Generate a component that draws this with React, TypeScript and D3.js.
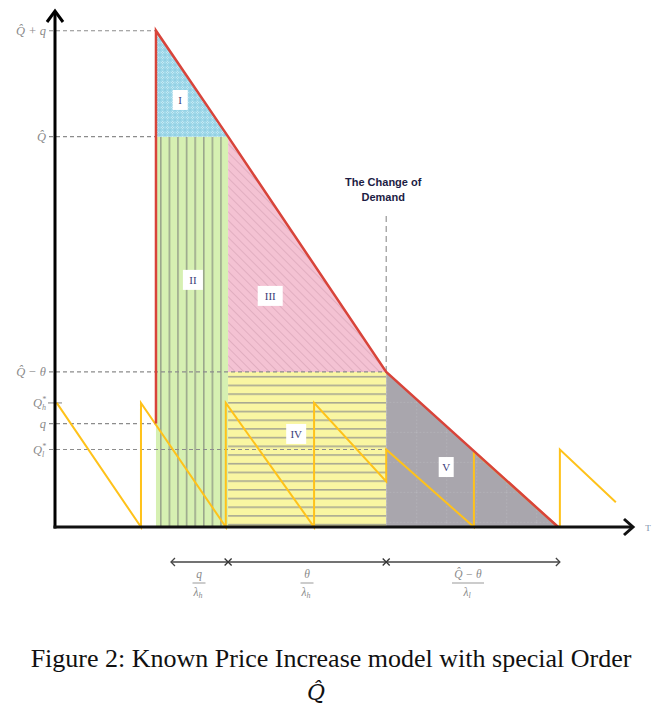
import React from "react";
import * as d3 from "d3";

// ---- data ----
// time axis (arbitrary units 0..100), inventory axis (arbitrary units 0..100)
const levelNames = ["Q̂ + q", "Q̂", "Q̂ − θ", "Qh*", "q", "Ql*"];
const levelValues = [96, 75.5, 30, 24, 20, 15];

const keyTimes = { special: 17.5, t1: 30, change: 57.4, end: 87.2 };

// inventory with special order (red line)
const redT = [17.5, 17.5, 30, 57.4, 87.2];
const redI = [20, 96, 75.5, 30, 0];

// regular EOQ sawtooth (yellow line)
const sawT = [0.3, 14.9, 14.9, 29.6, 29.6, 44.9, 44.9, 57.4, 57.4, 72.6, 72.6, 87.2, 87.5, 87.5, 97.2];
const sawI = [24, 0, 24, 0, 24, 0, 24, 8.8, 15, 0, 14.6, 0, 0, 15, 4.8];

const regionNames = ["I", "II", "III", "IV", "V"];
const regionLabelT = [21.7, 23.9, 37.3, 41.8, 67.8];
const regionLabelI = [82.6, 47.8, 44.7, 18, 11.6];

const bracketT = [20.1, 30, 57.4, 87.5];

const W = 664;
const H = 706;

export default function App() {
  const x = d3.scaleLinear().domain([0, 100]).range([55, 632]);
  const y = d3.scaleLinear().domain([0, 100]).range([527, 10]);

  const Qq = levelValues[0];
  const Qh = levelValues[1];
  const Qt = levelValues[2];

  const line = d3
    .line<[number, number]>()
    .x((d) => x(d[0]))
    .y((d) => y(d[1]));

  const redPts: [number, number][] = redT.map((t, i) => [t, redI[i]]);
  const sawPts: [number, number][] = sawT.map((t, i) => [t, sawI[i]]);

  const poly = (pts: [number, number][]) => line(pts) + "Z";
  const { special, t1, change, end } = keyTimes;

  const regI = poly([[special, Qq], [special, Qh], [t1, Qh]]);
  const regII = poly([[special, Qh], [t1, Qh], [t1, 0], [special, 0]]);
  const regIII = poly([[t1, Qh], [t1, Qt], [change, Qt]]);
  const regIV = poly([[t1, Qt], [change, Qt], [change, 0], [t1, 0]]);
  const regV = poly([[change, Qt], [change, 0], [end, 0]]);

  const x0 = x(0);
  const yb = y(0);

  // dashed guide lines: [level index, end time]
  const guides: [number, number][] = [
    [0, special],
    [1, special],
    [2, change],
    [4, special],
    [5, change],
  ];

  const labelStyle = {
    fontFamily: "'Liberation Serif', serif",
    fontStyle: "italic" as const,
    fontSize: 12.5,
    fill: "#8a8a8a",
  };

  const renderLevelLabel = (i: number) => {
    const yy = y(levelValues[i]) + 4.5;
    const xx = 46;
    if (i === 3 || i === 5) {
      return (
        <text key={"lv" + i} x={xx} y={yy} textAnchor="end" style={labelStyle}>
          Q
          <tspan fontSize={8} dy={-5}>*</tspan>
          <tspan fontSize={8} dx={-4} dy={8}>{i === 3 ? "h" : "l"}</tspan>
        </text>
      );
    }
    return (
      <text key={"lv" + i} x={xx} y={yy} textAnchor="end" style={labelStyle}>
        {levelNames[i]}
      </text>
    );
  };

  const bracketY = 562;
  const fracStyle = {
    fontFamily: "'Liberation Serif', serif",
    fontStyle: "italic" as const,
    fontSize: 11.5,
    fill: "#8a8a8a",
  };
  const fractions = [
    { cx: 199, num: "q", den: "λ", sub: "h", w: 13 },
    { cx: 307, num: "θ", den: "λ", sub: "h", w: 13 },
    { cx: 468, num: "Q̂ − θ", den: "λ", sub: "l", w: 32 },
  ];

  return (
    <svg
      width={W}
      height={H}
      style={{ position: "absolute", left: 0, top: 0, background: "#fff" }}
    >
      <defs>
        <pattern id="pI" patternUnits="userSpaceOnUse" width={5} height={5}>
          <rect width={5} height={5} fill="#9fd8ea" />
          <circle cx={2.5} cy={2.5} r={1.4} fill="#c8ecf6" />
          <path d="M0,0 L5,5 M5,0 L0,5" stroke="#86c8dd" strokeWidth={0.5} />
        </pattern>
        <pattern
          id="pII"
          patternUnits="userSpaceOnUse"
          x={x(special) + 4}
          width={8.6}
          height={10}
        >
          <rect width={8.6} height={10} fill="#d6f0b2" />
          <line x1={0.8} y1={0} x2={0.8} y2={10} stroke="#9aa68c" strokeWidth={1.6} />
        </pattern>
        <pattern
          id="pIII"
          patternUnits="userSpaceOnUse"
          width={6}
          height={6}
          patternTransform="rotate(45)"
        >
          <rect width={6} height={6} fill="#f4c2d3" />
          <line x1={0} y1={0} x2={6} y2={0} stroke="#d9a5b8" strokeWidth={1.4} />
        </pattern>
        <pattern
          id="pIV"
          patternUnits="userSpaceOnUse"
          y={y(Qt) + 4}
          width={10}
          height={8.7}
        >
          <rect width={10} height={8.7} fill="#f9f6a2" />
          <line x1={0} y1={0.8} x2={10} y2={0.8} stroke="#a9a992" strokeWidth={1.6} />
        </pattern>
        <pattern
          id="pV"
          patternUnits="userSpaceOnUse"
          x={x(change)}
          y={y(Qt)}
          width={30}
          height={30}
        >
          <rect width={30} height={30} fill="#a9a6ad" />
          <path d="M0,0 L30,0 M0,0 L0,30" stroke="#c2c0c6" strokeWidth={0.8} strokeDasharray="1.5,2" />
        </pattern>
      </defs>

      {/* shaded regions */}
      <path d={regII} fill="url(#pII)" />
      <path d={regIV} fill="url(#pIV)" />
      <path d={regI} fill="url(#pI)" />
      <path d={regIII} fill="url(#pIII)" />
      <path d={regV} fill="url(#pV)" />

      {/* dashed guides */}
      {guides.map(([li, t]) => (
        <line
          key={"g" + li}
          x1={x0 - 6}
          x2={x(t)}
          y1={y(levelValues[li])}
          y2={y(levelValues[li])}
          stroke="#8c8c8c"
          strokeWidth={1.1}
          strokeDasharray="4,3"
        />
      ))}
      <line
        x1={x0 - 7}
        x2={x0 + 7}
        y1={y(levelValues[3])}
        y2={y(levelValues[3])}
        stroke="#8c8c8c"
        strokeWidth={1.1}
      />
      <line
        x1={x(change)}
        x2={x(change)}
        y1={y(Qt)}
        y2={y(60.3)}
        stroke="#8c8c8c"
        strokeWidth={1.1}
        strokeDasharray="6,4"
      />

      {/* sawtooth */}
      <path d={line(sawPts) || ""} fill="none" stroke="#ffc21a" strokeWidth={2} strokeLinejoin="miter" />
      {/* special order line */}
      <path d={line(redPts) || ""} fill="none" stroke="#d8443a" strokeWidth={2.5} strokeLinejoin="miter" />

      {/* region labels */}
      {regionNames.map((n, i) => {
        const cx = x(regionLabelT[i]);
        const cy = y(regionLabelI[i]);
        const w = 10 + n.length * 5;
        return (
          <g key={"r" + n}>
            <rect x={cx - w / 2} y={cy - 10} width={w} height={20} fill="#fff" />
            <text
              x={cx}
              y={cy + 4}
              textAnchor="middle"
              fontFamily="'Liberation Serif', serif"
              fontSize={11}
              fill="#3a3a78"
            >
              {n}
            </text>
          </g>
        );
      })}

      {/* change of demand */}
      <text
        x={x(change) - 3}
        y={186}
        textAnchor="middle"
        fontFamily="'Liberation Sans', Arial, sans-serif"
        fontWeight="bold"
        fontSize={11}
        fill="#1c1c44"
      >
        <tspan x={x(change) - 3}>The Change of</tspan>
        <tspan x={x(change) - 3} dy={15}>Demand</tspan>
      </text>

      {/* axes */}
      <line x1={x0} x2={x0} y1={yb + 1.5} y2={12} stroke="#000" strokeWidth={3} />
      <path d={`M${x0 - 8},${22} L${x0},${11} L${x0 + 8},${22}`} fill="none" stroke="#000" strokeWidth={3} />
      <line x1={x0 - 1.5} x2={632} y1={yb} y2={yb} stroke="#111" strokeWidth={3} />
      <path d={`M${624},${yb - 8} L${633},${yb} L${624},${yb + 8}`} fill="none" stroke="#111" strokeWidth={3} />
      <text x={648} y={531} textAnchor="middle" fontSize={9} fontFamily="'Liberation Serif', serif" fill="#7a8aa8">
        T
      </text>

      {/* y level labels */}
      {levelValues.map((_, i) => renderLevelLabel(i))}

      {/* bottom bracket */}
      <line x1={x(bracketT[0])} x2={x(bracketT[3])} y1={bracketY} y2={bracketY} stroke="#444" strokeWidth={1.3} />
      <path
        d={`M${x(bracketT[0]) + 4},${bracketY - 4} L${x(bracketT[0])},${bracketY} L${x(bracketT[0]) + 4},${bracketY + 4}`}
        fill="none"
        stroke="#444"
        strokeWidth={1.3}
      />
      <path
        d={`M${x(bracketT[3]) - 4},${bracketY - 4} L${x(bracketT[3])},${bracketY} L${x(bracketT[3]) - 4},${bracketY + 4}`}
        fill="none"
        stroke="#444"
        strokeWidth={1.3}
      />
      {[bracketT[1], bracketT[2]].map((t) => (
        <path
          key={"xm" + t}
          d={`M${x(t) - 3.5},${bracketY - 3.5} L${x(t) + 3.5},${bracketY + 3.5} M${x(t) + 3.5},${bracketY - 3.5} L${x(t) - 3.5},${bracketY + 3.5}`}
          stroke="#333"
          strokeWidth={1.3}
        />
      ))}
      {fractions.map((f) => (
        <g key={"f" + f.cx}>
          <text x={f.cx} y={578} textAnchor="middle" style={fracStyle}>
            {f.num}
          </text>
          <line x1={f.cx - f.w / 2} x2={f.cx + f.w / 2} y1={583} y2={583} stroke="#999" strokeWidth={1} />
          <text x={f.cx - 1} y={596} textAnchor="middle" style={fracStyle}>
            {f.den}
            <tspan fontSize={8} dy={2}>{f.sub}</tspan>
          </text>
        </g>
      ))}

      {/* caption */}
      <text
        x={331}
        y={667}
        textAnchor="middle"
        fontFamily="'Liberation Serif', 'Times New Roman', serif"
        fontSize={26}
        fill="#111"
      >
        Figure 2: Known Price Increase model with special Order
      </text>
      <text
        x={316}
        y={700}
        textAnchor="middle"
        fontFamily="'DejaVu Serif', 'Liberation Serif', serif"
        fontStyle="italic"
        fontSize={22}
        fill="#111"
      >
        Q̂
      </text>
    </svg>
  );
}
